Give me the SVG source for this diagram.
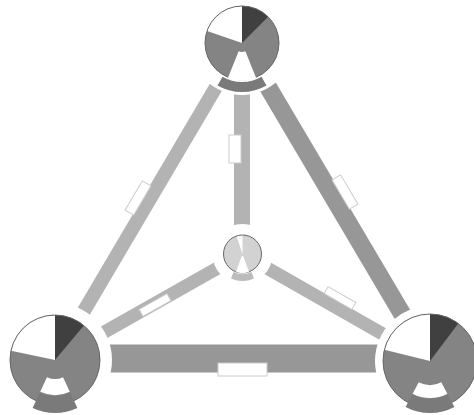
<svg xmlns="http://www.w3.org/2000/svg" width="474" height="415" viewBox="0 0 474 415">
<style>
.light{stroke:#b3b3b3;fill:none}
.med{stroke:#979797;fill:none}
.halo{fill:#ffffff}
.lbl{fill:#ffffff;stroke:#cccccc;stroke-width:1}
.pie{fill:#848484}
.dark{fill:#404040}
.wh{fill:#ffffff}
.ring{fill:none;stroke:#666666;stroke-width:1}
.band{fill:#7a7a7a}
</style>
<rect width="474" height="415" fill="#ffffff"/>
<g id="connectors">
<line class="light" x1="242" y1="43" x2="55" y2="360" stroke-width="14"/>
<line class="med" x1="242" y1="43" x2="430" y2="361" stroke-width="18"/>
<line class="light" x1="242" y1="43" x2="242" y2="254" stroke-width="16"/>
<line class="light" x1="242.5" y1="254" x2="55" y2="360" stroke-width="13"/>
<line class="light" x1="242.5" y1="254" x2="430" y2="361" stroke-width="13"/>
<line class="med" x1="55" y1="358.5" x2="430" y2="358.5" stroke-width="28"/>
<rect class="lbl" x="229" y="135" width="12" height="28"/>
<rect class="lbl" x="218" y="363" width="49" height="13"/>
<rect class="lbl" x="-5" y="-17" width="10" height="34" transform="translate(138 198) rotate(30.5)"/>
<rect class="lbl" x="-5" y="-17" width="10" height="34" transform="translate(345 192) rotate(-30.6)"/>
<rect class="lbl" x="-16" y="-4" width="32" height="8" transform="translate(155 305) rotate(-29.5)"/>
<rect class="lbl" x="-16" y="-4" width="32" height="8" transform="translate(340 298) rotate(29.7)"/>
<circle class="halo" cx="242" cy="43" r="52"/>
<circle class="halo" cx="55" cy="360" r="57"/>
<circle class="halo" cx="430" cy="361" r="55"/>
<circle class="halo" cx="242.5" cy="254" r="30"/>
</g>
<g id="node-top">
<circle class="pie" cx="242" cy="43" r="37"/>
<path class="dark" d="M242 43 L242 6 A37 37 0 0 1 268.16 16.84 Z"/>
<path class="wh" d="M242 43 L207.02 30.95 A37 37 0 0 1 242 6 Z"/>
<circle class="ring" cx="242" cy="43" r="37"/>
<path class="wh" d="M238.63 51.34 A9 9 0 0 0 245.37 51.34 L256.23 78.23 A38 38 0 0 1 227.77 78.23 Z"/>
<path class="band" d="M222.5 76.8 A39 39 0 0 0 261.5 76.8 L266.5 85.4 A49 49 0 0 1 217.5 85.4 Z"/>
</g>
<g id="node-bottom-left">
<circle class="pie" cx="55" cy="360" r="45"/>
<path class="dark" d="M55 360 L55 315 A45 45 0 0 1 83.93 325.53 Z"/>
<path class="wh" d="M55 360 L10.98 350.64 A45 45 0 0 1 55 315 Z"/>
<circle class="ring" cx="55" cy="360" r="45"/>
<path class="wh" d="M46.97 377.22 A19 19 0 0 0 63.03 377.22 L69.79 391.72 A35 35 0 0 1 40.21 391.72 Z"/>
<path class="band" d="M39.79 392.63 A36 36 0 0 0 70.21 392.63 L77.4 408.03 A53 53 0 0 1 32.6 408.03 Z"/>
</g>
<g id="node-bottom-right">
<circle class="pie" cx="430" cy="361" r="47"/>
<path class="dark" d="M430 361 L430 314 A47 47 0 0 1 458.29 323.46 Z"/>
<path class="wh" d="M430 361 L384.4 349.63 A47 47 0 0 1 430 314 Z"/>
<circle class="ring" cx="430" cy="361" r="47"/>
<path class="wh" d="M418.73 382.19 A24 24 0 0 0 441.27 382.19 L447.37 393.67 A37 37 0 0 1 412.63 393.67 Z"/>
<path class="band" d="M412.16 394.55 A38 38 0 0 0 447.84 394.55 L454.41 406.91 A52 52 0 0 1 405.59 406.91 Z"/>
</g>
<g id="node-center">
<circle cx="242.5" cy="254" r="19" fill="#d2d2d2"/>
<path class="wh" d="M242.5 254 L236.5 236 A19 19 0 0 1 242.5 235 Z"/>
<circle class="ring" cx="242.5" cy="254" r="19" stroke="#888888"/>
<path class="wh" d="M241.8 256 A2 2 0 0 0 243.2 256 L249 272 A19.5 19.5 0 0 1 236 272 Z"/>
<path fill="#bcbcbc" d="M233.5 272 A20.5 20.5 0 0 0 251.5 272 L254 278.5 A28 28 0 0 1 231 278.5 Z"/>
</g>
</svg>
